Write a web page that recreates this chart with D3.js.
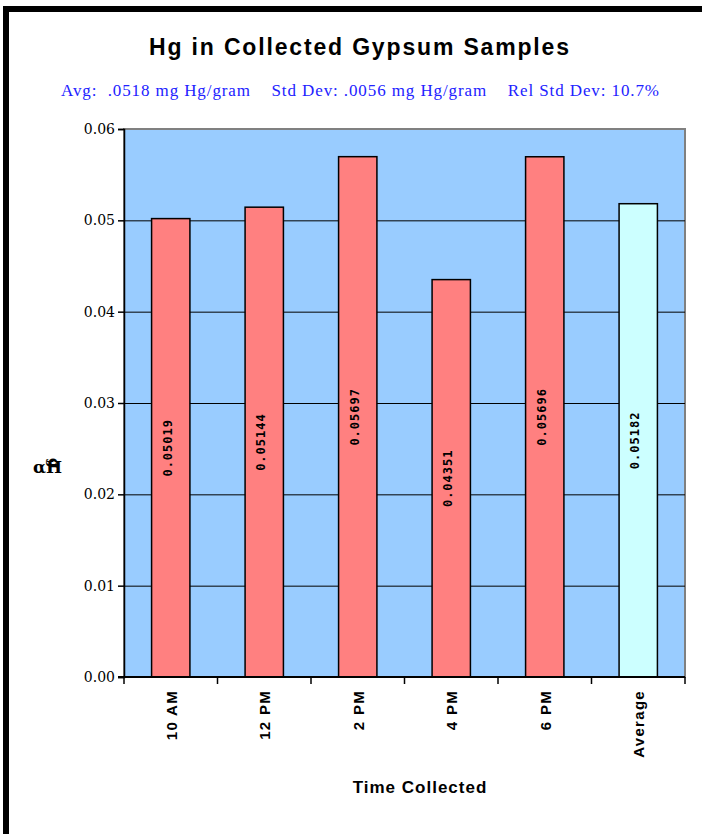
<!DOCTYPE html>
<html>
<head>
<meta charset="utf-8">
<script src="https://cdn.jsdelivr.net/npm/d3@7"></script>
<style>
	body { margin: 0; background: #fff; }
	svg { display: block; }
</style>
</head>
<body>
<svg id="chart"></svg>
<script>
// chart data
let categories = ["10 AM", "12 PM", "2 PM", "4 PM", "6 PM", "Average"];
let values = [0.05019, 0.05144, 0.05697, 0.04351, 0.05696, 0.05182];
let valueLabels = ["0.05019", "0.05144", "0.05697", "0.04351", "0.05696", "0.05182"];
let yTicks = [0, 0.01, 0.02, 0.03, 0.04, 0.05, 0.06];

let w = 702, h = 834;
let plotLeft = 124, plotRight = 685, plotTop = 129, plotBottom = 677;

let chart = d3.select('#chart')
	.attr('width', w)
	.attr('height', h);

// outer frame
chart.append('rect')
	.attr('x', 6).attr('y', 9)
	.attr('width', 760).attr('height', 900)
	.attr('fill', 'none')
	.attr('stroke', '#000')
	.attr('stroke-width', 6);

let xScale = d3.scaleBand()
	.domain(categories)
	.range([plotLeft, plotRight])
	.paddingInner(0.59)
	.paddingOuter(0.295);

let yScale = d3.scaleLinear()
	.domain([0, 0.06])
	.range([plotBottom, plotTop]);

// plot area
chart.append('rect')
	.attr('x', plotLeft).attr('y', plotTop)
	.attr('width', plotRight - plotLeft).attr('height', plotBottom - plotTop)
	.attr('fill', '#99ccff')
	.attr('stroke', '#808080')
	.attr('stroke-width', 2);

// gridlines
chart.append('g')
	.attr('transform', `translate(${plotLeft},0)`)
	.call(d3.axisLeft(yScale).tickValues(yTicks.slice(1, 6)).tickSize(-(plotRight - plotLeft)).tickFormat(''))
	.call(g => g.select('.domain').remove())
	.selectAll('line').attr('stroke', '#000').attr('stroke-width', 1);

// bars
chart.selectAll('.bar')
	.data(values)
	.enter()
	.append('rect')
	.attr('class', 'bar')
	.attr('x', (d, i) => xScale(categories[i]))
	.attr('y', d => yScale(d))
	.attr('width', xScale.bandwidth())
	.attr('height', d => plotBottom - yScale(d))
	.attr('fill', (d, i) => categories[i] == 'Average' ? '#ccffff' : '#ff8080')
	.attr('stroke', '#000')
	.attr('stroke-width', 1.5);

// value labels inside bars
chart.selectAll('.vlabel')
	.data(values)
	.enter()
	.append('text')
	.attr('class', 'vlabel')
	.attr('transform', (d, i) => {
		let cx = xScale(categories[i]) + xScale.bandwidth() / 2;
		let cy = (yScale(d) + plotBottom) / 2;
		return `translate(${cx + 1},${cy}) rotate(-90)`;
	})
	.attr('text-anchor', 'middle')
	.style('font-family', 'DejaVu Sans Mono')
	.style('font-weight', 'bold')
	.style('font-size', '12px')
	.style('letter-spacing', '1px')
	.text((d, i) => valueLabels[i]);

// y axis
let yAxisGroup = chart.append('g')
	.attr('transform', `translate(${plotLeft},0)`)
	.call(d3.axisLeft(yScale).tickValues(yTicks).tickSize(6).tickFormat(d3.format('.2f')));
yAxisGroup.selectAll('line, path').attr('stroke', '#000').attr('stroke-width', 1.5);
yAxisGroup.selectAll('text')
	.style('font-family', 'DejaVu Serif')
	.style('font-size', '14px')
	.attr('fill', '#000');

// x axis, ticks at band boundaries
let xBounds = d3.range(categories.length + 1).map(i => plotLeft + i * (plotRight - plotLeft) / categories.length);
chart.append('line')
	.attr('x1', plotLeft - 6).attr('x2', plotRight)
	.attr('y1', plotBottom).attr('y2', plotBottom)
	.attr('stroke', '#000').attr('stroke-width', 2);
chart.selectAll('.xtick')
	.data(xBounds)
	.enter()
	.append('line')
	.attr('x1', d => d).attr('x2', d => d)
	.attr('y1', plotBottom).attr('y2', plotBottom + 7)
	.attr('stroke', '#000').attr('stroke-width', 1.5);

chart.selectAll('.xlabel')
	.data(categories)
	.enter()
	.append('text')
	.attr('transform', d => `translate(${xScale(d) + xScale.bandwidth() / 2 + 6},690) rotate(-90)`)
	.attr('text-anchor', 'end')
	.style('font-family', 'Liberation Sans')
	.style('font-weight', 'bold')
	.style('font-size', '15px')
	.style('letter-spacing', '1.3px')
	.text(d => d);

// title and subtitle
chart.append('text')
	.attr('x', 359).attr('y', 55)
	.attr('text-anchor', 'middle')
	.attr('textLength', 420)
	.attr('lengthAdjust', 'spacing')
	.style('font-family', 'Liberation Sans')
	.style('font-weight', 'bold')
	.style('font-size', '23px')
	.text('Hg in Collected Gypsum Samples');

chart.append('text')
	.attr('x', 360).attr('y', 96)
	.attr('text-anchor', 'middle')
	.attr('textLength', 598)
	.attr('lengthAdjust', 'spacing')
	.attr('fill', '#2222ff')
	.style('font-family', 'Liberation Serif')
	.style('font-size', '17px')
	.style('white-space', 'pre')
	.text('Avg:  .0518 mg Hg/gram    Std Dev: .0056 mg Hg/gram    Rel Std Dev: 10.7%');

// axis titles
chart.append('text')
	.attr('x', 420).attr('y', 793)
	.attr('text-anchor', 'middle')
	.style('font-family', 'Liberation Sans')
	.style('font-weight', 'bold')
	.style('font-size', '17px')
	.style('letter-spacing', '1px')
	.text('Time Collected');

chart.append('text')
	.attr('x', 33).attr('y', 473)
	.style('font-family', 'DejaVu Serif')
	.style('font-weight', 'bold')
	.style('font-size', '17px')
	.text('αH');
chart.append('text')
	.attr('transform', 'translate(49,458) rotate(90)')
	.style('font-family', 'DejaVu Serif')
	.style('font-weight', 'bold')
	.style('font-size', '14px')
	.text('g');
</script>
</body>
</html>
